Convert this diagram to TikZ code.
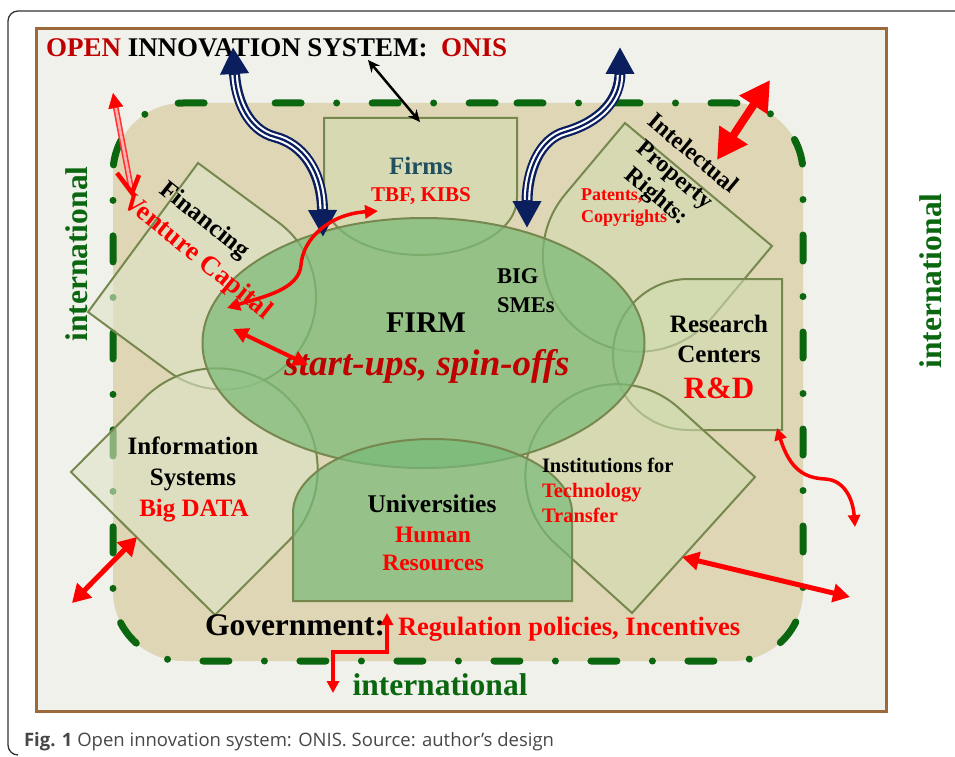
\documentclass[tikz,border=0pt]{standalone}
\usepackage{fontspec}
\setmainfont{Liberation Serif}
\newfontfamily\capfont{Open Sans}
\usetikzlibrary{arrows.meta,calc}
\definecolor{tanbg}{HTML}{DFD6B5}
\definecolor{framebg}{HTML}{F1F1EC}
\definecolor{brownfr}{HTML}{9C6A3A}
\definecolor{dgreen}{HTML}{0A660F}
\definecolor{olivel}{HTML}{77884F}
\definecolor{shpfill}{HTML}{D0DCB0}
\definecolor{shplight}{HTML}{DDE3C6}
\definecolor{firmfill}{HTML}{7DBB78}
\definecolor{unifill}{HTML}{78BA78}
\definecolor{navyarr}{HTML}{0B1F5E}
\definecolor{dred}{HTML}{C00000}
\definecolor{bred}{HTML}{FF0000}
\definecolor{firmsteal}{HTML}{1F4F60}
\definecolor{capgray}{HTML}{474747}
\definecolor{framegray}{HTML}{333333}
\newcommand\fsz[2]{\fontsize{#1}{#2}\selectfont\bfseries}
\tikzset{
  shp/.style={draw=olivel, line width=2pt, fill=shpfill, fill opacity=0.6},
  shpl/.style={shp, fill=shplight},
  txt/.style={inner sep=0pt, outer sep=0pt},
  bl/.style={txt, anchor=base},
  blw/.style={txt, anchor=base west},
  redl/.style={draw=bred, fill=bred},
}
\begin{document}
\begin{tikzpicture}[x=1pt,y=1pt,yscale=-1]
\useasboundingbox (0,0) rectangle (955,757);
% outer page frame
\draw[framegray, line width=1.3pt] (955,11) -- (18,11) arc[start angle=270, end angle=180, radius=10] -- (8,745) arc[start angle=180, end angle=90, radius=10];
% brown frame
\draw[brownfr, line width=3pt, fill=framebg] (36,29) rectangle (886,711);
% tan region and dashed border
\path[fill=tanbg, rounded corners=70pt] (447,103) -- (803,103) -- (803,661) -- (113,661) -- (113,103) -- cycle;
\draw[dgreen, line width=7pt, line cap=round, dash pattern=on 26pt off 35.5pt on 0pt off 35.5pt, rounded corners=70pt] (447,103) -- (803,103) -- (803,661) -- (113,661) -- (113,103) -- cycle;

% surrounding shapes
\draw[shpl] (198,163) -- (88,312) -- (168.5,371.4) arc[start angle=126.4, end angle=-53.6, radius=92.6] -- cycle;
\draw[shpl] (71,472) -- (215,615) -- (288.2,541.3) arc[start angle=44.8, end angle=-135.2, radius=101.5] -- cycle;
\draw[shp] (324,118) -- (517,118) -- (517,198) arc[start angle=0, end angle=180, x radius=96.5, y radius=57] -- cycle;
\draw[shp] (625,123) -- (772,246) -- (712.3,317.3) arc[start angle=39.9, end angle=219.9, radius=95.9] -- cycle;
\draw[shp] (688.5,279) -- (782,279) -- (782,430) -- (688.5,430) arc[start angle=90, end angle=270, radius=75.5] -- cycle;
\draw[shp] (755,477) -- (632,613) -- (555.6,543.9) arc[start angle=132.1, end angle=312.1, radius=91.7] -- cycle;
% FIRM ellipse
\draw[draw=olivel, line width=2pt, fill=firmfill, fill opacity=0.75] (423.5,343) ellipse [x radius=221, y radius=125];
% Universities
\draw[draw=olivel, line width=2pt, fill=unifill, fill opacity=0.7] (293,601) -- (572,601) -- (572,513) arc[start angle=0, end angle=-180, x radius=139.5, y radius=74] -- cycle;

% texts
\node[blw, font=\fsz{27}{30}] (title) at (46,57) {\textcolor{dred}{OPEN} INNOVATION SYSTEM:\ \ \textcolor{dred}{ONIS}};
\node[bl, font=\fsz{25}{30}, text=firmsteal] (firms) at (421,174) {Firms};
\node[bl, font=\fsz{21}{25}, text=bred] (tbf) at (421,201) {TBF, KIBS};
\node[bl, font=\fsz{30}{34}] (firm) at (426,332) {FIRM};
\node[bl, font=\fsz{37}{40}\itshape, text=dred] (startups) at (427,375) {start-ups, spin-offs};
\node[blw, font=\fsz{22.5}{26}] (big) at (497,283) {BIG};
\node[blw, font=\fsz{22.5}{26}] (smes) at (497,312) {SMEs};
\node[txt, rotate=-38.5, font=\fsz{25}{30}] (fin) at (204,221) {Financing};
\node[txt, rotate=-39, font=\fsz{27}{30}, text=bred] (vc) at (197,257) {Venture Capital};
\node[bl, font=\fsz{25}{30}] (info1) at (193,454) {Information};
\node[bl, font=\fsz{25}{30}] (info2) at (193,485) {Systems};
\node[bl, font=\fsz{25}{30}, text=bred] (bigdata) at (194,516) {Big DATA};
\node[bl, font=\fsz{25.5}{30}] (univ) at (432,512) {Universities};
\node[bl, font=\fsz{23.5}{28}, text=bred] (human) at (433,542) {Human};
\node[bl, font=\fsz{23.5}{28}, text=bred] (resources) at (433,570) {Resources};
\node[blw, font=\fsz{20.5}{25}] (inst) at (542,472) {Institutions for};
\node[blw, font=\fsz{20.5}{25}, text=bred] (techno) at (542,497) {Technology};
\node[blw, font=\fsz{20.5}{25}, text=bred] (transfer) at (542,522) {Transfer};
\node[bl, font=\fsz{25}{30}] (research) at (719,332) {Research};
\node[bl, font=\fsz{25}{30}] (centers) at (719,362) {Centers};
\node[bl, font=\fsz{31}{34}, text=bred] (rd) at (719,398) {R\&D};
\node[txt, rotate=-40, align=center, font=\fsz{24}{28}] (ipr) at (674,176) {Intelectual\\Property\\Rights:};
\node[blw, font=\fsz{18}{22}, text=bred] (patents) at (581,200) {Patents,};
\node[blw, font=\fsz{18}{22}, text=bred] (copyr) at (581,222) {Copyrights};
\node[blw, font=\fsz{31.5}{34}] (gov) at (205,635) {Government:};
\node[blw, font=\fsz{26.5}{30}, text=bred] (regul) at (398,635) {Regulation policies, Incentives};
\node[txt, rotate=90, font=\fsz{31.5}{34}, text=dgreen] (intl) at (77,254) {international};
\node[txt, rotate=90, font=\fsz{31.5}{34}, text=dgreen] (intr) at (931,281) {international};
\node[bl, font=\fsz{31.5}{34}, text=dgreen] (intb) at (440,695) {international};
\node[blw, font=\capfont\fontsize{18.5}{22}\selectfont, text=capgray] (cap) at (24,746) {\textbf{Fig. 1} Open innovation system: ONIS. Source: author’s design};

% navy triple-line arrows
\coordinate (nvL1) at (233,47);
\coordinate (nvL2) at (323,237);
\draw[navyarr, line width=11pt, {Triangle[length=27pt,width=27pt]}-{Triangle[length=27pt,width=27pt]}] (nvL1) .. controls (236,100) and (248,130) .. (275,137) .. controls (302,144) and (322,170) .. (nvL2);
\draw[white, line width=6.5pt, shorten <=28pt, shorten >=28pt] (nvL1) .. controls (236,100) and (248,130) .. (275,137) .. controls (302,144) and (322,170) .. (nvL2);
\draw[navyarr, line width=2.3pt, shorten <=28pt, shorten >=28pt] (nvL1) .. controls (236,100) and (248,130) .. (275,137) .. controls (302,144) and (322,170) .. (nvL2);
\coordinate (nvR1) at (620,47);
\coordinate (nvR2) at (527,228);
\draw[navyarr, line width=11pt, {Triangle[length=27pt,width=27pt]}-{Triangle[length=27pt,width=27pt]}] (nvR1) .. controls (620,100) and (600,122) .. (565,132) .. controls (540,139.1) and (527,170) .. (nvR2);
\draw[white, line width=6.5pt, shorten <=28pt, shorten >=28pt] (nvR1) .. controls (620,100) and (600,122) .. (565,132) .. controls (540,139.1) and (527,170) .. (nvR2);
\draw[navyarr, line width=2.3pt, shorten <=28pt, shorten >=28pt] (nvR1) .. controls (620,100) and (600,122) .. (565,132) .. controls (540,139.1) and (527,170) .. (nvR2);

% black arrow
\coordinate (bk1) at (368,60);
\coordinate (bk2) at (420,122);
\draw[black, line width=2.5pt, {Stealth[length=12pt,width=11pt]}-{Stealth[length=12pt,width=11pt]}] (bk1) -- (bk2);

% red double-line arrow top left
\coordinate (rl1) at (113,93);
\coordinate (rl2) at (132,193);
\coordinate (rlv1) at (117,173);
\coordinate (rlv2) at (139,175);
\draw[bred!80, line width=1.6pt, double=white!70!bred, double distance=2.6pt, shorten <=13pt, shorten >=6pt] (rl1) -- (rl2);
\draw[redl, line width=0.5pt, -{Triangle[length=15pt,width=15pt]}] ($(rl1)!15pt!(rl2)$) -- (rl1);
\draw[bred, line width=4.5pt] (rlv1) -- (rl2) -- (rlv2);

% red curved arrow firms - financing
\coordinate (rc1) at (378,211);
\coordinate (rc2) at (227,308);
\draw[redl, fill=none, line width=3.5pt, {Triangle[length=13pt,width=13pt]}-{Triangle[length=13pt,width=13pt]}] (rc1) .. controls (330,214) and (303,238) .. (301,265) .. controls (299,290) and (262,297) .. (rc2);
% red straight arrow in ellipse
\coordinate (rs1) at (233,329);
\coordinate (rs2) at (308,365);
\draw[redl, line width=4pt, {Triangle[length=15pt,width=15pt]}-{Triangle[length=15pt,width=15pt]}] (rs1) -- (rs2);
% big red arrow top right
\coordinate (rb1) at (770,80);
\coordinate (rb2) at (717,160);
\draw[redl, line width=8pt, {Triangle[length=30pt,width=32pt]}-{Triangle[length=30pt,width=32pt]}] (rb1) -- (rb2);
% red curved arrow research centers
\coordinate (rr1) at (777,428);
\coordinate (rr2) at (855,527);
\draw[redl, fill=none, line width=3.5pt, {Triangle[length=12pt,width=12pt]}-{Triangle[length=12pt,width=12pt]}] (rr1) .. controls (790,470) and (805,478) .. (825,479) .. controls (845,480) and (853,500) .. (rr2);
% red arrow bottom right
\coordinate (rbr1) at (682,557);
\coordinate (rbr2) at (850,597);
\draw[redl, line width=5pt, {Triangle[length=17pt,width=18pt]}-{Triangle[length=17pt,width=18pt]}] (rbr1) -- (rbr2);
% red arrow bottom left
\coordinate (rbl1) at (137,537);
\coordinate (rbl2) at (72,603);
\draw[redl, line width=5pt, {Triangle[length=18pt,width=20pt]}-{Triangle[length=18pt,width=20pt]}] (rbl1) -- (rbl2);
% red elbow arrow bottom
\coordinate (re1) at (333,693);
\coordinate (re2) at (387,613);
\draw[redl, fill=none, line width=4pt, {Triangle[length=12pt,width=12pt]}-{Triangle[length=12pt,width=12pt]}] (re1) -- (333,652) -- (387,652) -- (re2);
\end{tikzpicture}
\end{document}
